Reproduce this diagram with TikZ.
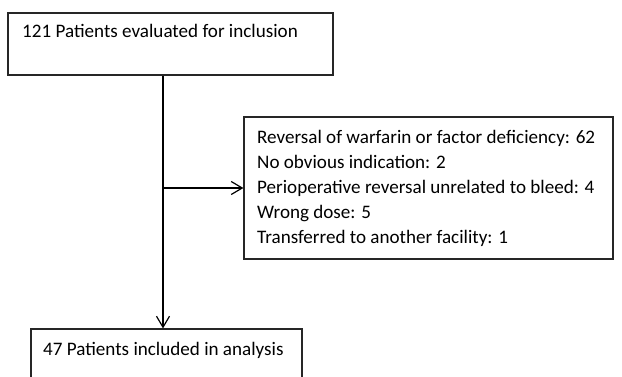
\documentclass[tikz,border=0pt]{standalone}
\usepackage{fontspec}
\setmainfont{Carlito}
\usetikzlibrary{arrows.meta}
\begin{document}
\begin{tikzpicture}[x=1pt,y=-1pt,
  box/.style={draw=black!85,line width=1.2pt,rectangle,inner sep=0pt},
  txt/.style={anchor=base west,inner sep=0pt,font=\fontsize{19.1}{22}\selectfont},
  conn/.style={line width=1.2pt,-{Straight Barb[length=11pt,width=13pt,line width=1.2pt]}}]
\useasboundingbox (0,0) rectangle (622,376);
\clip (0,0) rectangle (622,376);
\node[box,minimum width=325pt,minimum height=62pt] (top) at (170.5,44) {};
\node[txt] (toptxt) at (22,37) {121 Patients evaluated for inclusion};
\node[box,minimum width=369pt,minimum height=142pt] (excl) at (428.5,188) {};
\node[txt] (e1) at (257,143) {Reversal of warfarin or factor deficiency: 62};
\node[txt] (e2) at (257,168) {No obvious indication: 2};
\node[txt] (e3) at (257,193) {Perioperative reversal unrelated to bleed: 4};
\node[txt] (e4) at (257,218) {Wrong dose: 5};
\node[txt] (e5) at (257,243) {Transferred to another facility: 1};
\node[box,minimum width=271pt,minimum height=80pt] (bot) at (166.5,369) {};
\node[txt] (bottxt) at (43,355) {47 Patients included in analysis};
\coordinate (split) at (163,188);
\draw[conn] (top.south -| split) -- (bot.north -| split);
\draw[conn] (split) -- (excl.west |- split);
\end{tikzpicture}
\end{document}
